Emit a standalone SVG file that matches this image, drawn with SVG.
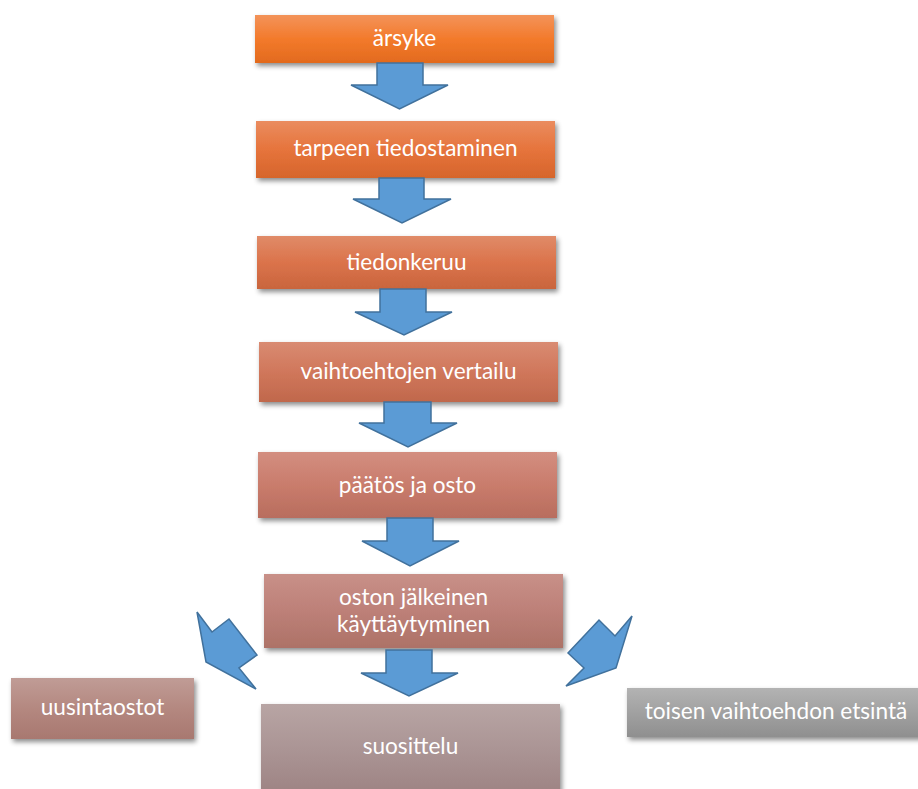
<svg xmlns="http://www.w3.org/2000/svg" width="918" height="789" viewBox="0 0 918 789">
<style>
.lbl{font-family:Lato,"Open Sans","Liberation Sans",sans-serif;font-size:22.6px;fill:#ffffff;text-anchor:middle}
.arr{fill:#5b9bd5;stroke:#41719c;stroke-width:1.5;stroke-linejoin:miter}
</style>
<defs>
<filter id="sh" x="-10%" y="-20%" width="125%" height="150%">
<feDropShadow dx="2" dy="3" stdDeviation="2.5" flood-color="#000" flood-opacity="0.45"/>
</filter>
<linearGradient id="g1" x1="0" y1="0" x2="0" y2="1"><stop offset="0" stop-color="#f3935a"/><stop offset="0.5" stop-color="#f37a2b"/><stop offset="1" stop-color="#e26a1e"/></linearGradient>
<linearGradient id="g2" x1="0" y1="0" x2="0" y2="1"><stop offset="0" stop-color="#ea8c5f"/><stop offset="0.5" stop-color="#e6743c"/><stop offset="1" stop-color="#d6652b"/></linearGradient>
<linearGradient id="g3" x1="0" y1="0" x2="0" y2="1"><stop offset="0" stop-color="#e08b68"/><stop offset="0.5" stop-color="#db734b"/><stop offset="1" stop-color="#c9653d"/></linearGradient>
<linearGradient id="g4" x1="0" y1="0" x2="0" y2="1"><stop offset="0" stop-color="#d98b72"/><stop offset="0.5" stop-color="#d0775b"/><stop offset="1" stop-color="#c0684c"/></linearGradient>
<linearGradient id="g5" x1="0" y1="0" x2="0" y2="1"><stop offset="0" stop-color="#d38e80"/><stop offset="0.5" stop-color="#c97c6c"/><stop offset="1" stop-color="#b86d5e"/></linearGradient>
<linearGradient id="g6" x1="0" y1="0" x2="0" y2="1"><stop offset="0" stop-color="#c89088"/><stop offset="0.5" stop-color="#bd8078"/><stop offset="1" stop-color="#ad7267"/></linearGradient>
<linearGradient id="g7" x1="0" y1="0" x2="0" y2="1"><stop offset="0" stop-color="#b8a5a4"/><stop offset="0.5" stop-color="#ab9595"/><stop offset="1" stop-color="#9e8484"/></linearGradient>
<linearGradient id="g8" x1="0" y1="0" x2="0" y2="1"><stop offset="0" stop-color="#c09c96"/><stop offset="0.5" stop-color="#b48880"/><stop offset="1" stop-color="#a87870"/></linearGradient>
<linearGradient id="g9" x1="0" y1="0" x2="0" y2="1"><stop offset="0" stop-color="#b3b3b3"/><stop offset="0.5" stop-color="#a1a1a1"/><stop offset="1" stop-color="#8f8f8f"/></linearGradient>
</defs>
<rect width="918" height="789" fill="#ffffff"/>

<g id="n1"><rect x="255" y="15" width="299" height="48" fill="url(#g1)" filter="url(#sh)"/><text class="lbl" x="404.5" y="46">ärsyke</text></g>
<g id="n2"><rect x="256" y="121" width="299" height="57" fill="url(#g2)" filter="url(#sh)"/><text class="lbl" x="405.5" y="156">tarpeen tiedostaminen</text></g>
<g id="n3"><rect x="257" y="236" width="299" height="53" fill="url(#g3)" filter="url(#sh)"/><text class="lbl" x="406.5" y="270">tiedonkeruu</text></g>
<g id="n4"><rect x="259" y="342" width="299" height="60" fill="url(#g4)" filter="url(#sh)"/><text class="lbl" x="408.5" y="379">vaihtoehtojen vertailu</text></g>
<g id="n5"><rect x="258" y="452" width="299" height="66" fill="url(#g5)" filter="url(#sh)"/><text class="lbl" x="407.5" y="493">päätös ja osto</text></g>
<g id="n6"><rect x="264" y="574" width="299" height="74" fill="url(#g6)" filter="url(#sh)"/><text class="lbl" x="413.5" y="605">oston jälkeinen</text><text class="lbl" x="413.5" y="632">käyttäytyminen</text></g>
<g id="n7"><rect x="261" y="704" width="299" height="88" fill="url(#g7)" filter="url(#sh)"/><text class="lbl" x="410.5" y="754">suosittelu</text></g>
<g id="n8"><rect x="11" y="678" width="183" height="61" fill="url(#g8)" filter="url(#sh)"/><text class="lbl" x="102.5" y="715">uusintaostot</text></g>
<g id="n9"><rect x="627" y="688" width="300" height="49" fill="url(#g9)" filter="url(#sh)"/><text class="lbl" x="776" y="719">toisen vaihtoehdon etsintä</text></g>

<g id="connectors">
<polygon class="arr" points="377,63 423,63 423,85 448,85 399.5,109 351,85 377,85"/>
<polygon class="arr" points="379,178 424,178 424,199 451,199 402,223 353,199 379,199"/>
<polygon class="arr" points="380,289 426,289 426,312 452,312 404,335 355,312 380,312"/>
<polygon class="arr" points="384,402 431,402 431,423 457,423 408,447 359,423 384,423"/>
<polygon class="arr" points="387,518 433,518 433,541 459,541 410,566 362,541 387,541"/>
<polygon class="arr" points="386,650 432,650 432,673 458,673 409,696 361,673 386,673"/>
<polygon class="arr" points="197,612 212,632 229,619 257,655 239,668 256,689 206,662"/>
<polygon class="arr" points="632,616 615,636 599,620 568,653 584,668 566,686 616,668"/>
</g>
</svg>
